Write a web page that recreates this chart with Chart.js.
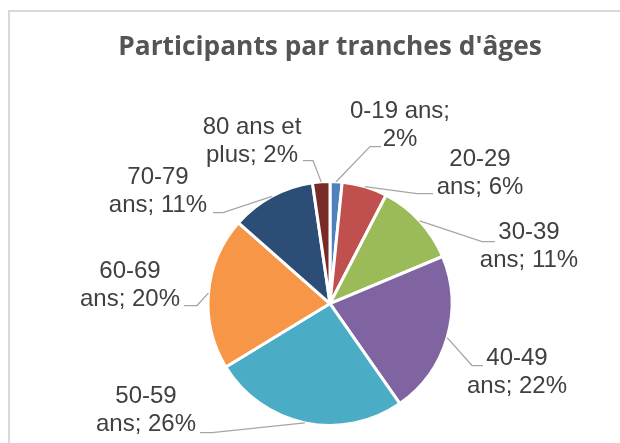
<!DOCTYPE html>
<html><head><meta charset="utf-8">
<script src="https://cdn.jsdelivr.net/npm/chart.js@4.4.1/dist/chart.umd.min.js"></script>
<style>
html,body{margin:0;padding:0;background:#fff;overflow:hidden}
#wrap{position:relative;width:620px;height:443px;background:#fff}
#frame{position:absolute;left:8px;top:10px;width:700px;height:600px;border-left:2px solid #d9d9d9;border-top:2px solid #d9d9d9;pointer-events:none}
canvas{position:absolute;left:0;top:0}
</style></head><body>
<div id="wrap"><canvas id="c" width="620" height="443"></canvas><div id="frame"></div></div>
<script>
const categories = ['0-19 ans','20-29 ans','30-39 ans','40-49 ans','50-59 ans','60-69 ans','70-79 ans','80 ans et plus'];
const shares = [1.6, 6.0, 11.1, 21.6, 26.0, 20.2, 11.2, 2.3];
const sliceColors = ['#4F81BD','#C0504D','#9BBB59','#8064A2','#4BACC6','#F79646','#2C4D75','#772C2A'];
const titleText = "Participants par tranches d'âges";

// data-label placement (pixel offsets from pie centre) and word wrap
const labelLayout = [
  {wrap:2, text:[70,-192],  elbow:[40,-157],  end:[51,-157]},
  {wrap:1, text:[150,-144], elbow:[87,-110],  end:[103,-110]},
  {wrap:1, text:[199,-71],  elbow:[152,-62],  end:[165,-62]},
  {wrap:1, text:[187,55],   elbow:[142,62],   end:[153,62]},
  {wrap:1, text:[-184,93],  elbow:[-118,129], end:[-130,129]},
  {wrap:1, text:[-200,-32], elbow:[-133,2],   end:[-146,2]},
  {wrap:1, text:[-172,-126],elbow:[-107,-91], end:[-117,-91]},
  {wrap:3, text:[-78,-176], elbow:[-17,-143], end:[-27,-143]}
];

const dataLabels = {
  id:'dataLabels',
  afterDatasetsDraw(chart){
    const ctx = chart.ctx;
    const meta = chart.getDatasetMeta(0);
    const vals = chart.data.datasets[0].data;
    const total = vals.reduce((a,b)=>a+b,0);
    ctx.save();
    meta.data.forEach((arc,i)=>{
      const p = arc.getProps(['x','y','startAngle','endAngle','outerRadius'], true);
      const mid = (p.startAngle+p.endAngle)/2;
      const sx = p.x + Math.cos(mid)*p.outerRadius;
      const sy = p.y + Math.sin(mid)*p.outerRadius;
      const L = labelLayout[i];
      ctx.strokeStyle = '#a6a6a6';
      ctx.lineWidth = 1.3;
      ctx.beginPath();
      ctx.moveTo(sx, sy);
      ctx.lineTo(p.x+L.elbow[0], p.y+L.elbow[1]);
      ctx.lineTo(p.x+L.end[0], p.y+L.end[1]);
      ctx.stroke();
      const pct = Math.round(vals[i]/total*100);
      const words = (chart.data.labels[i] + '; ' + pct + '%').split(' ');
      const lines = [words.slice(0,L.wrap).join(' '), words.slice(L.wrap).join(' ')];
      ctx.fillStyle = '#404040';
      ctx.font = "24px 'Liberation Sans', Arial, sans-serif";
      ctx.textAlign = 'center';
      ctx.textBaseline = 'middle';
      lines.forEach((t,k)=>ctx.fillText(t, p.x+L.text[0], p.y+L.text[1]+k*28));
    });
    ctx.restore();
  }
};

new Chart(document.getElementById('c'), {
  type:'pie',
  data:{
    labels:categories,
    datasets:[{data:shares, backgroundColor:sliceColors, borderColor:'#ffffff', borderWidth:3}]
  },
  options:{
    responsive:false,
    animation:false,
    layout:{padding:{left:40,right:0,top:0,bottom:16}},
    plugins:{
      legend:{display:false},
      tooltip:{enabled:false},
      title:{display:true, text:titleText, color:'#555555',
        font:{family:"'Open Sans'", size:26.3, weight:'bold'},
        padding:{top:32,bottom:116.5}}
    }
  },
  plugins:[dataLabels]
});
</script>
</body></html>
